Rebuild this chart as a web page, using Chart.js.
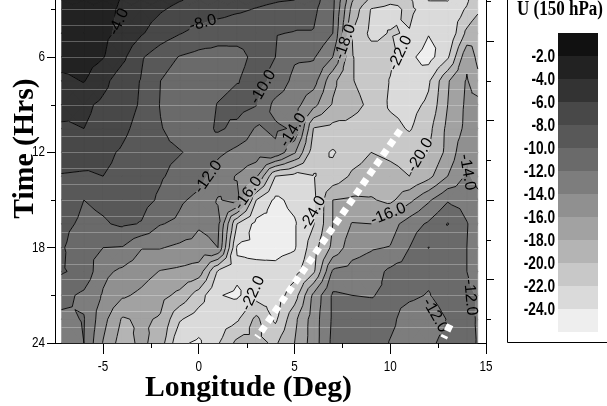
<!DOCTYPE html>
<html>
<head>
<meta charset="utf-8">
<title>U (150 hPa)</title>
<style>
  html, body { margin: 0; padding: 0; background: #fff; }
  canvas { display: block; }
</style>
<script src="https://cdn.jsdelivr.net/npm/chart.js@4/dist/chart.umd.min.js"></script>
</head>
<body>
<canvas id="grafico" width="607" height="406"></canvas>
<script>
const lonValues = [-7.17, -6, -5, -4, -3, -2, -1, 0, 1, 2, 3, 4, 5, 6, 7, 8, 9, 10, 11, 12, 13, 14, 14.57];
const hourValues = [2.41, 3, 4.5, 6, 7.5, 9, 10.5, 12, 13.5, 15, 16.5, 18, 19.5, 21, 22.5, 24];

// U, one row per hour value, one column per longitude
const uValues = [
  [-3, -3, -3.4, -4.1, -4.7, -5.3, -5.9, -6.4, -6.8, -7.2, -7.5, -7.8, -8, -9.2, -11.5, -17.8, -20.5, -21.5, -21.7, -24.1, -24.1, -22.3, -20.5],
  [-3, -3.2, -3.6, -4.2, -5.1, -5.8, -6.5, -6.9, -7.2, -7.7, -8.1, -8.5, -9, -9.6, -11.6, -18.6, -22.1, -22.6, -21.6, -22.8, -23.2, -21.8, -20.5],
  [-3, -3.3, -3.6, -4.4, -5.8, -7, -7.9, -8.6, -9.2, -9.4, -9.4, -9.9, -10.1, -10.1, -12, -20, -22.5, -21.9, -22.1, -23.9, -23.9, -19.5, -18],
  [-3, -3.2, -3.9, -5.5, -7.8, -9.1, -10.1, -10.6, -10.7, -10.5, -9.6, -10, -11.7, -11.8, -14, -19.9, -21, -21.6, -23.6, -24.8, -22.3, -16.5, -18.5],
  [-4.5, -3.9, -5.4, -7.1, -8.1, -10, -11, -11.4, -10.8, -10.1, -9.3, -10.5, -12.6, -13.2, -17.5, -19.9, -20.8, -22.1, -23.9, -22.3, -18.2, -15.8, -17.5],
  [-5, -5.6, -6.4, -7.2, -8.2, -10.1, -11, -11.2, -9.9, -9.2, -9.9, -12.6, -13.3, -15.4, -18.2, -19.4, -20.4, -22.3, -22.7, -21.6, -18, -15.6, -15.2],
  [-6.4, -6, -6.6, -7.6, -8.6, -9.9, -10.7, -11, -9.7, -10.5, -12.2, -11.7, -12.2, -20.1, -20.6, -20.6, -21, -21.3, -22.2, -20.6, -17.5, -15.5, -15],
  [-7.2, -7.3, -7.6, -8.2, -9, -9.6, -9.9, -10.5, -11.6, -12.5, -12.9, -12.4, -15.7, -21.2, -22.2, -20.9, -20, -20.3, -20.6, -20, -17.4, -14.2, -14.8],
  [-8.1, -8.2, -8, -8.4, -9.2, -9.8, -10.6, -11.3, -13, -14.15, -15.6, -22, -22.7, -22.1, -21.3, -19.7, -19.2, -19.5, -20, -18.6, -16, -13.7, -14.6],
  [-8.5, -10, -9.6, -9.2, -9.3, -10.3, -11.7, -12.5, -14.15, -13.4, -22, -24.4, -23.5, -22.3, -18, -17.7, -17.8, -18.5, -16.5, -14.3, -12.2, -12.8, -13.5],
  [-9.3, -10.5, -10.2, -9.7, -10.1, -11.9, -12.4, -13.8, -13.5, -22, -24.6, -24.7, -24.2, -22.1, -18, -15.9, -16, -14.9, -13, -11.7, -9.9, -11.9, -13],
  [-9.7, -11.8, -12, -12.1, -13.9, -13.9, -14.4, -14.6, -14, -24.2, -24.4, -24.6, -24.2, -20.8, -17.5, -14.8, -14.2, -13.9, -12, -9.95, -11.6, -12, -13],
  [-9.8, -10.6, -13.5, -14.4, -15.2, -16.1, -16.4, -16.9, -22.2, -23.6, -23.6, -23.5, -22.7, -20.3, -13.7, -13.3, -12.9, -11.6, -11.2, -11.6, -11.3, -12, -12.6],
  [-11.4, -12.4, -14.2, -15.7, -16.4, -17.4, -18.5, -21, -23.9, -24.3, -22.8, -23, -21, -15.5, -11.7, -12, -12.1, -11.6, -11.7, -12.1, -11.2, -11.7, -12.1],
  [-12.4, -11.9, -15.3, -18.2, -17.7, -18.2, -21.8, -23, -23.1, -22.3, -19.5, -22.4, -18.5, -15, -11.7, -11, -11.1, -11.6, -12.8, -13, -11.9, -11.3, -12.2],
  [-13, -12, -16.1, -19, -17.5, -19, -23.7, -24.3, -22.2, -19.5, -19.5, -20.3, -18, -15, -11.5, -10.8, -10.9, -12.1, -12.8, -12.4, -11.4, -11.5, -12.1]
];

const levels = [-2, -4, -6, -8, -10, -12, -14, -16, -18, -20, -22, -24];
const bandColors = ['#111111', '#222222', '#333333', '#484848', '#585858', '#6a6a6a', '#7d7d7d', '#909090', '#a2a2a2', '#b4b4b4', '#c8c8c8', '#dadada', '#eeeeee'];

const lonTicks = [-5, 0, 5, 10, 15];
const lonMinorTicks = [-2.5, 2.5, 7.5, 12.5];
const hourTicks = [6, 12, 18, 24];
const hourMinorTicks = [3, 9, 15, 21];
const rightTicks = [5, 10, 15, 20];
const rightMinorTicks = [2.5, 7.5, 12.5, 17.5, 22.5];

const labelTexts = ['-4.0', '-8.0', '-10.0', '-14.0', '-18.0', '-22.0', '-12.0', '-16.0', '-24.0', '-20.0', '-16.0', '-14.0', '-12.0', '-12.0', '-22.0'];
const labelLons = [-4.17, 0.22, 3.36, 4.93, 7.65, 10.52, 0.49, 2.58, 5.97, 11.57, 9.9, 14.02, 14.18, 12.35, 2.84];
const labelHours = [3.79, 3.86, 7.89, 10.6, 5.05, 5.75, 13.56, 14.57, 15.83, 12.18, 15.89, 13.25, 21.12, 22.26, 20.87];
const labelAngles = [-65, -15, -60, -58, -70, -65, -55, -55, -60, -60, -22, 80, 85, 60, -65];

const trackLons = [10.52, 3.05];
const trackHours = [10.6, 23.64];
const trackBLons = [13.13, 12.79];
const trackBHours = [22.85, 23.69];

const serifBold = '"Liberation Serif"';
const sans = '"Liberation Sans"';

function clipAbove(poly, limit, keepBelow) {
  const out = [];
  for (let i = 0; i < poly.length; i++) {
    const a = poly[i];
    const b = poly[(i + 1) % poly.length];
    const aIn = keepBelow ? a.v <= limit : a.v >= limit;
    const bIn = keepBelow ? b.v <= limit : b.v >= limit;
    if (aIn) out.push(a);
    if (aIn !== bIn) {
      const t = (limit - a.v) / (b.v - a.v);
      out.push({ x: a.x + (b.x - a.x) * t, y: a.y + (b.y - a.y) * t, v: limit });
    }
  }
  return out;
}

function eachTriangle(chart, fn) {
  const xs = chart.scales.x;
  const ys = chart.scales.y;
  for (let r = 0; r < hourValues.length - 1; r++) {
    for (let c = 0; c < lonValues.length - 1; c++) {
      const p = (rr, cc) => ({
        x: xs.getPixelForValue(lonValues[cc]),
        y: ys.getPixelForValue(hourValues[rr]),
        v: uValues[rr][cc]
      });
      const q = [p(r, c), p(r, c + 1), p(r + 1, c + 1), p(r + 1, c)];
      const m = {
        x: (q[0].x + q[2].x) / 2,
        y: (q[0].y + q[2].y) / 2,
        v: (q[0].v + q[1].v + q[2].v + q[3].v) / 4
      };
      for (let k = 0; k < 4; k++) fn([q[k], q[(k + 1) % 4], m]);
    }
  }
}

// the original uses a condensed face, so squeeze the text sideways
function squeezed(ctx, text, x, y, squeeze) {
  ctx.save();
  ctx.translate(x, y);
  ctx.scale(squeeze, 1);
  ctx.fillText(text, 0, 0);
  ctx.restore();
}

const contourPlugin = {
  id: 'contourField',
  beforeDatasetsDraw(chart) {
    const { ctx, scales } = chart;
    ctx.save();

    // filled bands
    bandColors.forEach((color, i) => {
      ctx.fillStyle = color;
      ctx.strokeStyle = color;
      ctx.lineWidth = 0.5;
      ctx.beginPath();
      eachTriangle(chart, (tri) => {
        let poly = tri;
        if (i > 0) poly = clipAbove(poly, levels[i - 1], true);
        if (i < levels.length && poly.length) poly = clipAbove(poly, levels[i], false);
        if (poly.length < 3) return;
        ctx.moveTo(poly[0].x, poly[0].y);
        poly.slice(1).forEach((pt) => ctx.lineTo(pt.x, pt.y));
        ctx.closePath();
      });
      ctx.fill();
      ctx.stroke();
    });

    // faint hour lines
    const left = scales.x.getPixelForValue(lonValues[0]);
    const right = scales.x.getPixelForValue(lonValues[lonValues.length - 1]);
    ctx.strokeStyle = 'rgba(255,255,255,0.28)';
    ctx.lineWidth = 1;
    ctx.beginPath();
    for (let h = 3; h < 24; h++) {
      const y = Math.round(scales.y.getPixelForValue(h)) + 0.5;
      ctx.moveTo(left, y);
      ctx.lineTo(right, y);
    }
    ctx.stroke();

    // contour lines, with gaps under the labels
    ctx.font = `16px ${sans}`;
    ctx.save();
    ctx.beginPath();
    ctx.rect(0, 0, chart.width, chart.height);
    labelTexts.forEach((text, i) => {
      const w = ctx.measureText(text).width + 2;
      const a = labelAngles[i] * Math.PI / 180;
      const cx = scales.x.getPixelForValue(labelLons[i]);
      const cy = scales.y.getPixelForValue(labelHours[i]);
      [[-w / 2, -6], [w / 2, -6], [w / 2, 6], [-w / 2, 6]].forEach(([dx, dy], k) => {
        const px = cx + dx * Math.cos(a) - dy * Math.sin(a);
        const py = cy + dx * Math.sin(a) + dy * Math.cos(a);
        if (k === 0) ctx.moveTo(px, py); else ctx.lineTo(px, py);
      });
      ctx.closePath();
    });
    ctx.clip('evenodd');
    ctx.strokeStyle = '#000';
    ctx.lineWidth = 0.9;
    ctx.beginPath();
    levels.forEach((level) => {
      eachTriangle(chart, (tri) => {
        const pts = [];
        for (let k = 0; k < 3; k++) {
          const a = tri[k];
          const b = tri[(k + 1) % 3];
          if ((a.v < level) !== (b.v < level)) {
            const t = (level - a.v) / (b.v - a.v);
            pts.push([a.x + (b.x - a.x) * t, a.y + (b.y - a.y) * t]);
          }
        }
        if (pts.length === 2) {
          ctx.moveTo(pts[0][0], pts[0][1]);
          ctx.lineTo(pts[1][0], pts[1][1]);
        }
      });
    });
    ctx.stroke();
    ctx.restore();

    ctx.fillStyle = '#000';
    ctx.textAlign = 'center';
    ctx.textBaseline = 'middle';
    labelTexts.forEach((text, i) => {
      ctx.save();
      ctx.translate(scales.x.getPixelForValue(labelLons[i]), scales.y.getPixelForValue(labelHours[i]));
      ctx.rotate(labelAngles[i] * Math.PI / 180);
      ctx.fillText(text, 0, 0);
      ctx.restore();
    });
    ctx.restore();
  },
  afterDraw(chart) {
    const { ctx, scales } = chart;
    const { left, right, bottom } = chart.chartArea;
    ctx.save();
    ctx.strokeStyle = '#000';
    ctx.lineWidth = 1;
    ctx.beginPath();
    lonMinorTicks.forEach((v) => {
      const x = Math.round(scales.x.getPixelForValue(v)) + 0.5;
      ctx.moveTo(x, bottom);
      ctx.lineTo(x, bottom + 5);
    });
    hourMinorTicks.forEach((v) => {
      const y = Math.round(scales.y.getPixelForValue(v)) + 0.5;
      ctx.moveTo(left, y);
      ctx.lineTo(left - 4, y);
    });
    rightMinorTicks.forEach((v) => {
      const y = Math.round(scales.y2.getPixelForValue(v)) + 0.5;
      ctx.moveTo(right, y);
      ctx.lineTo(right + 5, y);
    });
    ctx.moveTo(left - 8, Math.round(bottom) + 0.5);
    ctx.lineTo(left, Math.round(bottom) + 0.5);
    ctx.moveTo(507.5, 0);
    ctx.lineTo(507.5, 342.5);
    ctx.lineTo(607, 342.5);
    ctx.stroke();

    // axis numbers
    ctx.fillStyle = '#000';
    ctx.font = `15px ${sans}`;
    ctx.textBaseline = 'middle';
    ctx.textAlign = 'center';
    scales.x.ticks.forEach((t) => {
      squeezed(ctx, String(t.value), scales.x.getPixelForValue(t.value), 367, 0.78);
    });
    ctx.textAlign = 'right';
    scales.y.ticks.forEach((t) => {
      squeezed(ctx, String(t.value), 45, scales.y.getPixelForValue(t.value), 0.78);
    });

    // colour key
    bandColors.forEach((color, i) => {
      ctx.fillStyle = color;
      ctx.fillRect(558, 33 + i * 23, 40, 23);
    });
    ctx.fillStyle = '#000';
    ctx.textAlign = 'right';
    ctx.textBaseline = 'middle';
    ctx.font = `bold 18px ${sans}`;
    levels.forEach((level, i) => {
      squeezed(ctx, level.toFixed(1), 555, 57 + i * 23, 0.76);
    });
    ctx.textAlign = 'center';
    ctx.textBaseline = 'alphabetic';
    ctx.font = `bold 20px ${serifBold}`;
    squeezed(ctx, 'U (150 hPa)', 560, 15, 0.85);

    ctx.font = `bold 29.7px ${serifBold}`;
    ctx.fillText('Longitude (Deg)', 248.5, 396);
    ctx.translate(33, 148.5);
    ctx.rotate(-Math.PI / 2);
    ctx.fillText('Time (Hrs)', 0, 0);
    ctx.restore();
  }
};

const xyPairs = (lons, hours) => lons.map((lon, i) => ({ x: lon, y: hours[i] }));

const trackStyle = {
  showLine: true,
  pointRadius: 0,
  borderColor: '#fff',
  borderWidth: 7,
  borderDash: [7, 4.9]
};

const noMargins = (s) => {
  s.paddingTop = 0;
  s.paddingBottom = 0;
  s.paddingLeft = 0;
  s.paddingRight = 0;
};

new Chart(document.querySelector('#grafico'), {
  type: 'scatter',
  data: {
    datasets: [
      { ...trackStyle, label: 'track', data: xyPairs(trackLons, trackHours) },
      { ...trackStyle, label: 'track 2', data: xyPairs(trackBLons, trackBHours) }
    ]
  },
  options: {
    responsive: false,
    animation: false,
    layout: { padding: 0 },
    plugins: {
      legend: { display: false },
      tooltip: { enabled: false }
    },
    scales: {
      x: {
        type: 'linear',
        min: -7.51,
        max: 15,
        afterBuildTicks: (s) => { s.ticks = lonTicks.map((value) => ({ value })); },
        afterFit: (s) => { s.height = 63; noMargins(s); },
        border: { color: '#000', width: 1 },
        grid: { drawOnChartArea: false, tickLength: 11, tickColor: '#000' },
        ticks: { display: false }
      },
      y: {
        type: 'linear',
        reverse: true,
        min: 2.41,
        max: 24,
        afterBuildTicks: (s) => { s.ticks = hourTicks.map((value) => ({ value })); },
        afterFit: (s) => { s.width = 55; noMargins(s); },
        border: { color: '#000', width: 1 },
        grid: { drawOnChartArea: false, tickLength: 8, tickColor: '#000' },
        ticks: { display: false }
      },
      y2: {
        type: 'linear',
        position: 'right',
        reverse: true,
        min: 2.41,
        max: 24,
        afterBuildTicks: (s) => { s.ticks = rightTicks.map((value) => ({ value })); },
        afterFit: (s) => { s.width = 121; noMargins(s); },
        border: { color: '#000', width: 1 },
        grid: { drawOnChartArea: false, tickLength: 8, tickColor: '#000' },
        ticks: { display: false }
      }
    }
  },
  plugins: [contourPlugin]
});
</script>
</body>
</html>
